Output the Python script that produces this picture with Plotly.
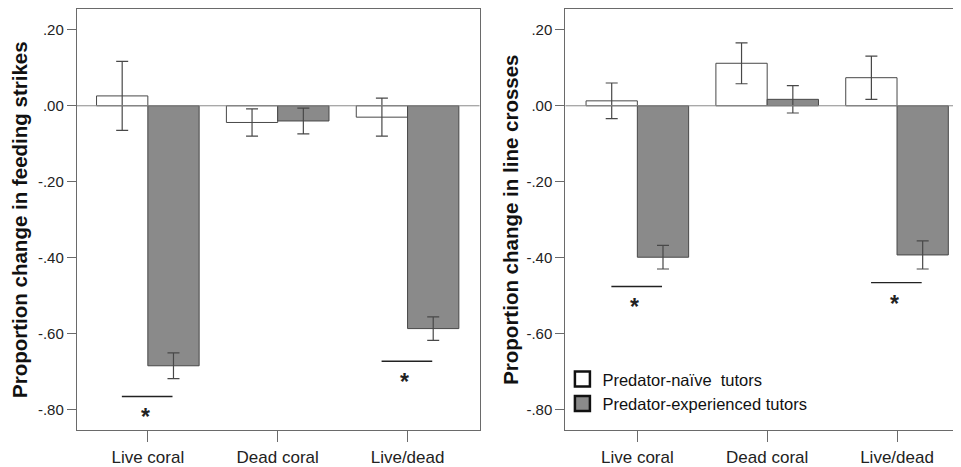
import plotly.graph_objects as go

categories = ["Live coral", "Dead coral", "Live/dead"]

# Left panel: proportion change in feeding strikes
feed_naive = [0.026, -0.044, -0.030]
feed_naive_err = [0.091, 0.036, 0.050]
feed_exp = [-0.685, -0.040, -0.587]
feed_exp_err = [0.034, 0.034, 0.031]

# Right panel: proportion change in line crosses
line_naive = [0.013, 0.112, 0.074]
line_naive_err = [0.047, 0.054, 0.057]
line_exp = [-0.399, 0.017, -0.393]
line_exp_err = [0.031, 0.036, 0.037]

# significance markers (category index, line level)
feed_sig_idx = [0, 2]
feed_sig_y = [-0.766, -0.673]
line_sig_idx = [0, 2]
line_sig_y = [-0.476, -0.466]

tick_vals = [0.2, 0.0, -0.2, -0.4, -0.6, -0.8]
tick_text = [".20", ".00", "-.20", "-.40", "-.60", "-.80"]

series_names = ["Predator-naïve  tutors", "Predator-experienced tutors"]
naive_color = "#ffffff"
exp_color = "#8a8a8a"
edge = "#484848"
axis_col = "#6a6a6a"
FONT = "Liberation Sans, Arial, sans-serif"

# page body has an 8px margin, so the figure starts at (8, 8)
W, H, OFF = 953, 459, 8

def px_x(p):
    return (p - OFF) / W

def px_y(p):
    return 1 - (p - OFF) / H

fig = go.Figure()

def add_bars(y_vals, errs, color, name, xa, ya):
    fig.add_trace(go.Bar(
        x=categories, y=y_vals, name=name, showlegend=False,
        marker=dict(color=color, line=dict(color=edge, width=1)),
        error_y=dict(type="data", array=errs, color=edge, thickness=1.2, width=6),
        xaxis=xa, yaxis=ya,
    ))

add_bars(feed_naive, feed_naive_err, naive_color, series_names[0], "x", "y")
add_bars(feed_exp, feed_exp_err, exp_color, series_names[1], "x", "y")
add_bars(line_naive, line_naive_err, naive_color, series_names[0], "x2", "y2")
add_bars(line_exp, line_exp_err, exp_color, series_names[1], "x2", "y2")

# legend entries
for nm, col in zip(series_names, [naive_color, exp_color]):
    fig.add_trace(go.Scatter(
        x=[None], y=[None], mode="markers", name=nm, showlegend=True,
        marker=dict(symbol="square", size=15, color=col, line=dict(color="#111111", width=2.5)),
        xaxis="x2", yaxis="y2",
    ))

shapes = []
annotations = []
for xr, yr, idxs, ys in [("x", "y", feed_sig_idx, feed_sig_y), ("x2", "y2", line_sig_idx, line_sig_y)]:
    for i, yv in zip(idxs, ys):
        shapes.append(dict(type="line", xref=xr, yref=yr, x0=i - 0.2, x1=i + 0.19,
                           y0=yv, y1=yv, line=dict(color="#222222", width=1.4)))
        annotations.append(dict(xref=xr, yref=yr, x=i - 0.02, y=yv - 0.055, text="<b>*</b>",
                                showarrow=False, font=dict(size=23, color="#222222", family=FONT)))
    # zero line
    shapes.append(dict(type="line", xref=xr + " domain", yref=yr, x0=0, x1=1, y0=0, y1=0,
                       line=dict(color="#8a8a8a", width=1), layer="above"))

yrange = [-0.855, 0.255]
common_y = dict(range=yrange, tickvals=tick_vals, ticktext=tick_text, showgrid=False,
                zeroline=False, showline=True, linecolor=axis_col, linewidth=1.2, mirror=True,
                ticks="outside", ticklen=9, tickcolor=axis_col,
                tickfont=dict(size=15, color="#222222", family=FONT))
common_x = dict(showgrid=False, zeroline=False, showline=True, linecolor=axis_col, linewidth=1.2,
                mirror=True, ticks="outside", ticklen=11, tickcolor=axis_col,
                tickfont=dict(size=17, color="#222222", family=FONT))

ydom = [px_y(433), px_y(8)]

fig.update_layout(
    width=W, height=H,
    margin=dict(l=0, r=0, t=0, b=0),
    paper_bgcolor="white", plot_bgcolor="white",
    barmode="group", bargap=0.21, bargroupgap=0,
    font=dict(family=FONT),
    xaxis=dict(domain=[px_x(77), px_x(480)], range=[-0.546, 2.554], anchor="y", **common_x),
    yaxis=dict(domain=ydom, anchor="x",
               title=dict(text="<b>Proportion change in feeding strikes</b>", standoff=5,
                          font=dict(size=20.5, color="#111111", family=FONT)),
               **common_y),
    xaxis2=dict(domain=[px_x(566), 1.0], range=[-0.554, 2.485], anchor="y2", **common_x),
    yaxis2=dict(domain=ydom, anchor="x2",
                title=dict(text="<b>Proportion change in line crosses</b>", standoff=2,
                           font=dict(size=20.5, color="#111111", family=FONT)),
                **common_y),
    legend=dict(x=px_x(563), y=px_y(364), xanchor="left", yanchor="top",
                bgcolor="rgba(0,0,0,0)", font=dict(size=16.5, color="#111111", family=FONT),
                itemsizing="trace", tracegroupgap=0, itemwidth=30),
    shapes=shapes,
    annotations=annotations,
)

fig.write_html("out.html")
